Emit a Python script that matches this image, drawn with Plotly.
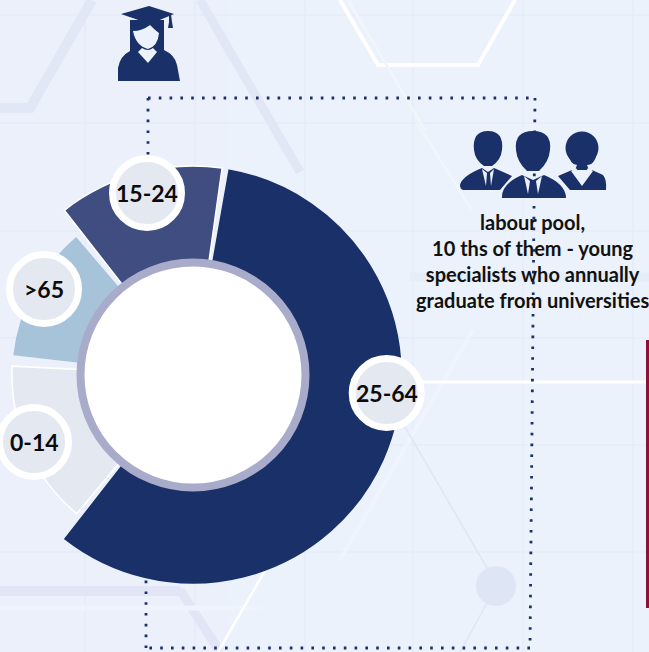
import re
import plotly.graph_objects as go

W, H = 649, 652
OFF = 30          # the canvas starts this far left of the window, so the big sectors fit the polar frame
FW = W + OFF

# --- data ---
age_groups = ["25-64", "15-24", ">65", "0-14"]
sector_centre_deg = [114, -15, 298, 246.4]
sector_sweep_deg = [208, 46, 43, 52.8]
sector_outer = [208, 209, 180, 181]
sector_colors = ["#1a3068", "#3f4d80", "#a7c3da", "#e3e8f1"]
sector_edge = ["#1a3068", "#ffffff", "#a7c3da", "#ffffff"]
caption = "labour pool,<br>10 ths of them - young<br>specialists who annually<br>graduate from universities"

BG = "#ebf2fb"
NAVY = "#1a3068"


def fx(x):
    return (x + OFF) / FW


def fy(y):
    return 1 - y / H


def conv(path):
    """Turn a path in picture pixels into paper fractions."""
    out, i = [], 0
    for tok in re.findall(r"[MLQCZ]|-?\d+\.?\d*", path):
        if tok.isalpha():
            out.append(tok)
        else:
            out.append(f"{fx(float(tok)) if i % 2 == 0 else fy(float(tok)):.5f}")
            i += 1
    return " ".join(out)


def path(p, fill=NAVY, line=None, lw=0, layer="above", opacity=1):
    return dict(type="path", xref="paper", yref="paper", path=conv(p), fillcolor=fill,
                line=dict(color=line or fill, width=lw), layer=layer, opacity=opacity)


def seg(x0, y0, x1, y1, color, w, dash="solid", layer="below"):
    return dict(type="line", xref="paper", yref="paper", x0=fx(x0), y0=fy(y0), x1=fx(x1), y1=fy(y1),
                line=dict(color=color, width=w, dash=dash), layer=layer)


def circ(cx, cy, r, fill, line=None, lw=0, layer="above"):
    return dict(type="circle", xref="paper", yref="paper", x0=fx(cx - r), x1=fx(cx + r),
                y0=fy(cy + r), y1=fy(cy - r), fillcolor=fill,
                line=dict(color=line or fill, width=lw), layer=layer)


shapes = []
# tinted left half of the background
shapes.append(dict(type="rect", xref="paper", yref="paper", x0=0, x1=fx(230), y0=0, y1=1,
                   fillcolor="#edf0fb", line=dict(width=0), layer="below", opacity=0.7))
# grid
for gx in [85, 195, 305, 413, 523, 633]:
    shapes.append(seg(gx, 0, gx, H, "#e3ebf7", 1.3))
for gy in [15, 123, 231, 338, 445, 552]:
    shapes.append(seg(-OFF, gy, W, gy, "#e4ecf8", 1.3))
# decorative bands
shapes.append(path("M-30 108 L30 108 L92 0", fill="rgba(0,0,0,0)", line="#e2e7f6", lw=10, layer="below"))
shapes.append(seg(200, 0, 300, 172, "#e2e7f6", 9))
shapes.append(seg(-OFF, 591, 181, 591, "#e2e5f5", 10))
shapes.append(seg(180, 590, 220, 652, "#e2e5f5", 9))
shapes.append(seg(-OFF, 608, 262, 608, "#eff4fc", 5))
shapes.append(seg(410, 277, 649, 277, "#e5edf8", 9))
shapes.append(path("M340 0 L378 65 L478 65 L515 0", fill="rgba(0,0,0,0)", line="#ffffff", lw=4, layer="below"))
shapes.append(seg(348, 0, 425, 130, "#f1f5fc", 3))
shapes.append(seg(417, 123, 472, 210, "#f1f5fc", 3))
shapes.append(seg(473, 330, 340, 560, "#f0f4fc", 4))
shapes.append(seg(218, 652, 300, 510, "#ffffff", 2.5))
shapes.append(seg(405, 427, 487, 568, "#dfe6f4", 1.5))
shapes.append(seg(487, 603, 460, 652, "#dfe6f4", 1.5))
shapes.append(circ(496, 586, 20, "#dee6f5", layer="below"))
shapes.append(seg(400, 382, 646, 382, "#ffffff", 3))
shapes.append(dict(type="rect", xref="paper", yref="paper", x0=fx(646), x1=1, y0=fy(608), y1=fy(340),
                   fillcolor="#8e0f3c", line=dict(width=0), layer="below"))
# dotted route
DOT = "2.6px,8.2px"
shapes.append(seg(148, 98, 535, 98, NAVY, 2.8, DOT))
shapes.append(seg(535, 98, 530, 648, NAVY, 2.8, DOT))
shapes.append(seg(530, 648, 146, 648, NAVY, 2.8, DOT))
shapes.append(seg(146, 648, 146, 575, NAVY, 2.8, DOT))
shapes.append(seg(148, 98, 148, 165, NAVY, 2.8, DOT))

# centre disc
shapes.append(circ(193, 375, 112.5, "#ffffff", "#a9abcb", 8))
# label discs
label_pos = [(386.7, 393), (147, 193), (44, 289), (34, 442)]
for cx, cy in label_pos:
    shapes.append(circ(cx, cy, 34.5, "#e3e8f1", "#ffffff", 7))

# graduate icon
shapes.append(path("M118 81 L118 68 Q120 56 130 51 L130 20 L164 20 L164 50 Q175 55 177 65 L180 81 Z"))
shapes.append(path("M121 14 L149 6 L174 14 L150 24 Z"))
shapes.append(path("M169 14 L171 14 L172 22 L173 28 L168 28 L169 22 Z"))
shapes.append(path("M133 31 Q142 31 150 25 Q156 31 159 33 Q158 46 148 49 Q136 46 133 31 Z", fill=BG))
shapes.append(path("M142 48 L138 52 L148 63 L157 52 L153 48 Q148 52 142 48 Z", fill=BG))

# group icon: left man
shapes.append(path("M474 150 Q472 131 488 131 Q504 131 502 150 Q501 160 492 166 L484 166 Q475 160 474 150 Z"))
shapes.append(path("M460 185 Q462 176 482 168 L488 172 L494 168 L512 176 L500 190 L463 190 Q460 189 460 185 Z"))
shapes.append(path("M482 169 L487 173 L486 186 Z", fill=BG))
shapes.append(path("M494 169 L490 173 L491 186 Z", fill=BG))
# group icon: woman
shapes.append(circ(582, 148, 16.5, NAVY))
shapes.append(path("M568 152 Q570 165 577 165 L575 170 L589 170 L587 165 Q595 165 597 152 Z"))
shapes.append(path("M558 176 L572 170 L582 183 L592 170 L603 175 Q607 180 606 190 L570 190 Z"))
shapes.append(path("M571 171 L576 168 L582 178 L588 168 L593 171 L582 186 Z", fill=BG))
# group icon: centre man
shapes.append(path("M502 198 Q501 184 522 175 L533 180 L544 175 Q566 184 566 198 Z", line=BG, lw=3))
shapes.append(path("M502 198 Q501 184 522 175 L533 180 L544 175 Q566 184 566 198 Z"))
shapes.append(path("M516 150 Q514 131 533 131 Q552 131 550 150 Q549 162 539 171 L527 171 Q517 162 516 150 Z"))
shapes.append(path("M524 176 L530 181 L528 194 Z", fill=BG))
shapes.append(path("M542 176 L536 181 L538 194 Z", fill=BG))

fig = go.Figure()
fig.add_trace(go.Barpolar(
    r=sector_outer, theta=sector_centre_deg, width=sector_sweep_deg,
    marker=dict(color=sector_colors, line=dict(color=sector_edge, width=1.5)),
    text=age_groups, hoverinfo="text", showlegend=False,
))

annotations = [
    dict(x=fx(cx), y=fy(cy), xref="paper", yref="paper", text=f"<b>{t}</b>", showarrow=False,
         font=dict(family="Lato", size=23, color="#0b0b0b"), xanchor="center", yanchor="middle")
    for t, (cx, cy) in zip(age_groups, label_pos)
]
annotations.append(dict(x=fx(532), y=fy(261), xref="paper", yref="paper", text=f"<b>{caption}</b>",
                        showarrow=False, align="center", xanchor="center", yanchor="middle",
                        font=dict(family="Lato", size=20, color="#111111")))

R = 215  # polar frame radius in pixels; radial range equals it, so one unit is one pixel
fig.update_layout(
    width=FW, height=H, margin=dict(l=0, r=0, t=0, b=0), autosize=False,
    paper_bgcolor=BG, plot_bgcolor=BG, showlegend=False,
    shapes=shapes, annotations=annotations,
    polar=dict(
        domain=dict(x=[fx(193 - R), fx(193 + R)], y=[fy(375 + R), fy(375 - R)]),
        bgcolor="rgba(0,0,0,0)",
        radialaxis=dict(visible=False, range=[0, R]),
        angularaxis=dict(visible=False, rotation=90, direction="clockwise"),
    ),
)
fig.write_html(
    "out.html",
    config=dict(displayModeBar=False),
    post_script=(
        "document.documentElement.style.overflow='hidden';"
        "document.body.style.margin='0';document.body.style.overflow='hidden';"
        f"document.getElementById('{{plot_id}}').style.marginLeft='-{OFF}px';"
    ),
)
